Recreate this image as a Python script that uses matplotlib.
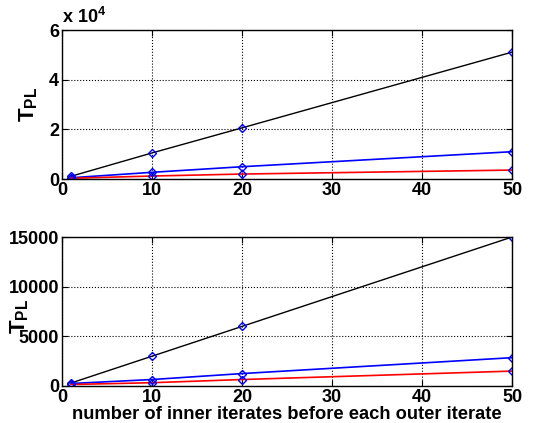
import matplotlib
matplotlib.use("Agg")
import matplotlib.pyplot as plt
from matplotlib.ticker import FuncFormatter

plt.rcParams['font.family'] = ['Liberation Sans', 'DejaVu Sans']
plt.rcParams['font.weight'] = 'bold'
plt.rcParams['mathtext.fontset'] = 'custom'
plt.rcParams['mathtext.bf'] = 'Liberation Sans:bold'

inner = [1, 10, 20, 50]

# top panel
top_black = [1100, 10500, 20600, 51100]
top_blue = [500, 2700, 4950, 11000]
top_red = [300, 1200, 2000, 3600]

# bottom panel
bot_black = [300, 3000, 6000, 15000]
bot_blue = [250, 650, 1250, 2850]
bot_red = [150, 330, 650, 1500]

fig = plt.figure(figsize=(5.45, 4.23), dpi=100)
ax1 = fig.add_axes([0.1138, 0.5768, 0.8257, 0.3522])
ax2 = fig.add_axes([0.1138, 0.0875, 0.8257, 0.3522])

def draw(ax, black, blue, red):
    ax.plot(inner, black, color='k', lw=1)
    ax.plot(inner, blue, color='b', lw=1.2)
    ax.plot(inner, red, color='r', lw=1.2)
    for s in (black, blue, red):
        ax.plot(inner, s, ls='none', marker='D', ms=4.5, mfc='none', mec='b', mew=1)
    ax.set_xlim(0, 50)
    ax.set_xticks([0, 10, 20, 30, 40, 50])
    ax.grid(True, color='k', ls=':', lw=0.8)
    ax.tick_params(direction='in', top=True, right=True, labelsize=13, length=4, pad=2)
    for sp in ax.spines.values():
        sp.set_linewidth(1)
    ax.set_ylabel(r'$\mathbf{T_{PL}}$', fontsize=16)

draw(ax1, top_black, top_blue, top_red)
ax1.set_ylim(0, 60000)
ax1.set_yticks([0, 20000, 40000, 60000])
ax1.yaxis.set_major_formatter(FuncFormatter(lambda v, p: '%d' % round(v / 1e4)))
ax1.text(0.0, 1.02, r'x 10$^{\mathbf{4}}$', transform=ax1.transAxes, fontsize=13,
         fontweight='bold', ha='left', va='bottom')
ax1.yaxis.set_label_coords(-0.05, 0.5)

draw(ax2, bot_black, bot_blue, bot_red)
ax2.set_ylim(0, 15000)
ax2.set_yticks([0, 5000, 10000, 15000])
ax2.yaxis.set_label_coords(-0.07, 0.47)
ax2.set_xlabel('number of inner iterates before each outer iterate', fontsize=13.2,
               fontweight='bold', labelpad=0)

fig.savefig('out.png', dpi=100)
